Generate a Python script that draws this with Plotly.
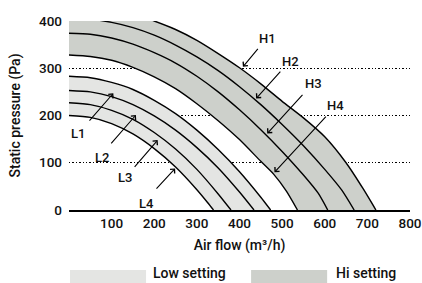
import plotly.graph_objects as go

# ---- data ----
flow_L4 = [0, 50, 100, 150, 200, 250, 300, 325, 339]
pres_L4 = [200, 196, 183, 161, 130, 91, 43, 16, 0]
flow_L3 = [0, 50, 100, 150, 200, 250, 300, 350, 380]
pres_L3 = [227, 223, 211, 192, 164, 129, 86, 34, 0]
flow_L2 = [0, 50, 100, 150, 200, 250, 300, 350, 400, 434]
pres_L2 = [253, 250, 240, 223, 199, 169, 132, 89, 38, 0]
flow_L1 = [0, 50, 100, 150, 200, 250, 300, 350, 400, 450, 473]
pres_L1 = [283, 280, 270, 255, 232, 204, 169, 128, 81, 27, 0]

flow_H4 = [0, 50, 100, 150, 200, 250, 300, 350, 400, 450, 480, 510, 536]
pres_H4 = [328, 325, 317, 302, 282, 257, 225, 189, 149, 103, 76, 40, 0]
flow_H3 = [0, 50, 100, 150, 200, 250, 300, 350, 400, 450, 500, 550, 585, 607]
pres_H3 = [374, 372, 364, 351, 333, 311, 283, 250, 212, 170, 124, 74, 35, 0]
flow_H2 = [0, 50, 100, 150, 200, 250, 300, 350, 400, 450, 500, 550, 600, 640, 669]
pres_H2 = [406, 404, 397, 386, 370, 349, 324, 295, 261, 223, 181, 136, 86, 42, 0]
flow_H1 = [0, 50, 100, 150, 200, 250, 300, 350, 400, 450, 500, 550, 600, 650, 690, 720]
pres_H1 = [434, 432, 426, 415, 400, 382, 359, 331, 301, 267, 230, 195, 155, 100, 45, 0]

x_ticks = [100, 200, 300, 400, 500, 600, 700, 800]
y_ticks = [0, 100, 200, 300, 400]
legend_labels = ["Low setting", "Hi setting"]
curve_labels = ["L1", "L2", "L3", "L4", "H1", "H2", "H3", "H4"]

# ---- styling ----
LOW_FILL = "#e4e5e3"
HI_FILL = "#cdd0cb"
FONT = "Roboto"
SPL = dict(shape="spline", smoothing=0.6)

fig = go.Figure()

# low band fill (inner -> outer)
fig.add_trace(go.Scatter(x=flow_L4, y=pres_L4, mode="lines", line=dict(width=0, **SPL),
                         showlegend=False, hoverinfo="skip"))
fig.add_trace(go.Scatter(x=flow_L1, y=pres_L1, mode="lines", line=dict(width=0, **SPL),
                         fill="tonexty", fillcolor=LOW_FILL, showlegend=False, hoverinfo="skip"))
# high band fill
fig.add_trace(go.Scatter(x=flow_H4, y=pres_H4, mode="lines", line=dict(width=0, **SPL),
                         showlegend=False, hoverinfo="skip"))
fig.add_trace(go.Scatter(x=flow_H1, y=pres_H1, mode="lines", line=dict(width=0, **SPL),
                         fill="tonexty", fillcolor=HI_FILL, showlegend=False, hoverinfo="skip"))

curves = [(flow_L1, pres_L1), (flow_L2, pres_L2), (flow_L3, pres_L3), (flow_L4, pres_L4),
          (flow_H1, pres_H1), (flow_H2, pres_H2), (flow_H3, pres_H3), (flow_H4, pres_H4)]
for (fx, py), name in zip(curves, curve_labels):
    fig.add_trace(go.Scatter(x=fx, y=py, mode="lines",
                             line=dict(color="black", width=1.4, **SPL),
                             name=name, showlegend=False))

# label / arrow placement (data coords): label centre, arrow tail, arrow tip
label_pos = {
    "L1": ((22, 162), (45, 186), (104, 247)),
    "L2": ((78, 111), (96, 138), (157, 201)),
    "L3": ((131, 68), (151, 88), (208, 148)),
    "L4": ((182, 14), (202, 42), (249, 88)),
    "H1": ((465, 363), (446, 344), (408, 303)),
    "H2": ((519, 315), (499, 296), (439, 236)),
    "H3": ((573, 268), (551, 247), (465, 162)),
    "H4": ((626, 221), (606, 201), (482, 80)),
}
for name in curve_labels:
    (lx, ly), (tx, ty), (hx, hy) = label_pos[name]
    fig.add_annotation(x=hx, y=hy, ax=tx, ay=ty, axref="x", ayref="y", xref="x", yref="y",
                       text="", showarrow=True, arrowhead=4, arrowsize=1.1, arrowwidth=1.1,
                       arrowcolor="black")
    fig.add_annotation(x=lx, y=ly, xref="x", yref="y", text=name, showarrow=False,
                       font=dict(family=FONT, size=13, color="#111", weight=500))

# legend drawn as swatches + text
legend_items = [
    (legend_labels[0], LOW_FILL, 0.003, 0.226, 0.240),
    (legend_labels[1], HI_FILL, 0.534, 0.757, 0.778),
]
for text, col, x0, x1, tx in legend_items:
    fig.add_shape(type="rect", xref="paper", yref="paper", x0=x0, x1=x1, y0=-0.41, y1=-0.317,
                  fillcolor=col, line=dict(width=0))
    fig.add_annotation(xref="paper", yref="paper", x=tx, y=-0.333, xanchor="left", yanchor="middle",
                       text=text, showarrow=False,
                       font=dict(family=FONT, size=14, color="#111", weight=500))

fig.update_layout(
    width=422, height=283,
    margin=dict(l=69, r=12, t=21, b=73, autoexpand=False),
    paper_bgcolor="white", plot_bgcolor="white",
    font=dict(family=FONT, size=14, color="#111", weight=500),
    xaxis=dict(range=[0, 800], tickvals=x_ticks, showgrid=False, zeroline=False,
               showline=True, linecolor="black", linewidth=1.5, ticks="", ticklen=0,
               ticklabelstandoff=0, ticklabeloverflow="allow",
               tickfont=dict(size=13.5),
               title=dict(text="Air flow (m³/h)", standoff=10, font=dict(size=14))),
    yaxis=dict(range=[0, 400], tickvals=y_ticks, showgrid=True, gridcolor="black",
               gridwidth=1.2, griddash="1.4px,2px", zeroline=False, showline=False, ticks="",
               ticklen=0, ticklabelstandoff=6, ticklabeloverflow="allow",
               tickfont=dict(size=13.5),
               title=dict(text="Static pressure (Pa)", standoff=15, font=dict(size=14))),
)

fig.write_html(
    "out.html",
    config={"displayModeBar": False},
    post_script="document.body.style.margin='0';document.body.style.overflow='hidden';"
                "document.documentElement.style.overflow='hidden';",
)
